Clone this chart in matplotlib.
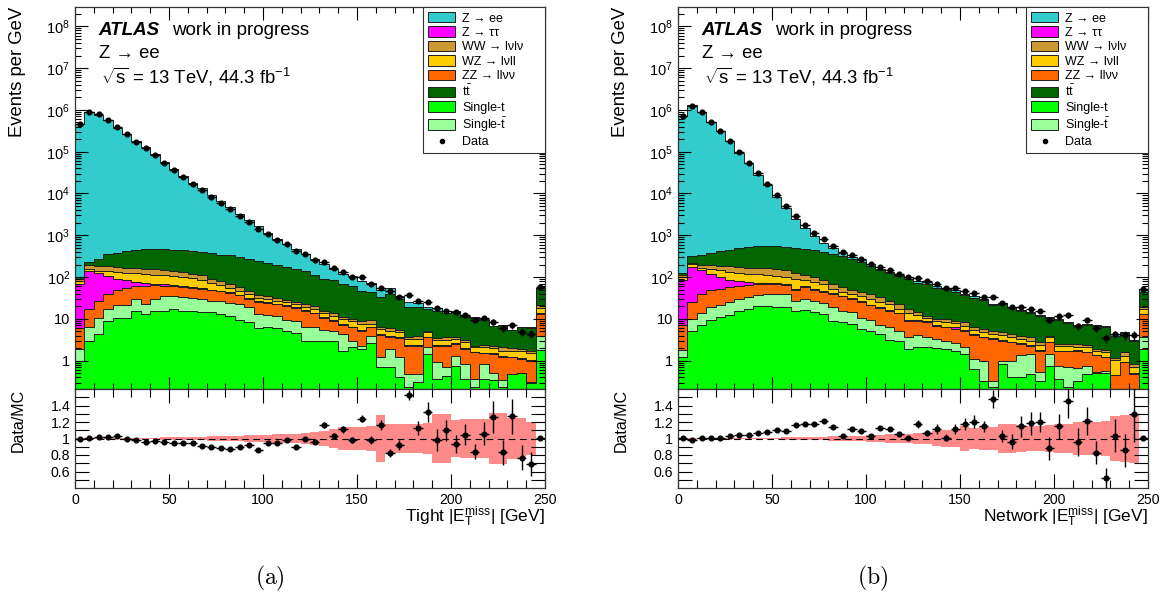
import numpy as np
import matplotlib
matplotlib.use("Agg")
import matplotlib.pyplot as plt
from matplotlib.patches import Patch
from matplotlib.lines import Line2D
from matplotlib.ticker import (FixedLocator, MultipleLocator, FuncFormatter, NullFormatter)

plt.rcParams['font.family'] = ['Liberation Sans', 'DejaVu Sans']
plt.rcParams['mathtext.fontset'] = 'custom'
plt.rcParams['mathtext.rm'] = 'Liberation Sans'
plt.rcParams['mathtext.it'] = 'Liberation Sans:italic'
plt.rcParams['mathtext.bf'] = 'Liberation Sans:bold'

# 50 bins of 5 GeV, last one is the overflow (245-250)
edges = np.arange(0, 255, 5)
centers = edges[:-1] + 2.5

# sample names / colours, bottom of stack first
samples = ["Single-t", "Single-tbar", "ZZ", "Ztautau", "WZ", "WW", "ttbar", "Zee"]
colors = {
    "Zee": "#33cccc", "Ztautau": "#ff00ff", "WW": "#cc9933", "WZ": "#ffcc00",
    "ZZ": "#ff6600", "ttbar": "#006600", "Single-t": "#00ff00", "Single-tbar": "#99ff99",
}
legend_order = ["Zee", "Ztautau", "WW", "WZ", "ZZ", "ttbar", "Single-t", "Single-tbar"]
legend_labels = {
    "Zee": "Z \u2192 ee", "Ztautau": "Z \u2192 \u03c4\u03c4", "WW": "WW \u2192 l\u03bdl\u03bd",
    "WZ": "WZ \u2192 l\u03bdll", "ZZ": "ZZ \u2192 ll\u03bd\u03bd",
    "ttbar": r"$\mathrm{t\bar{t}}$", "Single-t": "Single-t",
    "Single-tbar": r"Single-$\mathrm{\bar{t}}$",
}

# ---- (a) Tight MET, events per GeV ----
left_single_t = [1.0, 3.0, 4.4, 9.1, 10.6, 10.6, 15.8, 13.2, 15.8, 15.8, 17.1, 15.8, 15.8, 15.0, 14.5,
                 13.2, 12.0, 9.5, 8.3, 6.1, 6.3, 6.1, 5.25, 4.5, 3.0, 3.0, 2.9, 2.9, 1.74, 2.1,
                 1.9, 2.6, 0.69, 0.69, 0.4, 0.23, 0.3, 1.45, 0.36, 0.44, 0.76, 0.36, 0.23, 0.36, 0.34,
                 0.23, 0.48, 0.52, 0.29, 1.8]
left_single_tbar = [0.91, 3.3, 6.2, 7.9, 10.3, 10.3, 13.3, 9.7, 14.4, 18.6, 17.9, 17.3, 15.5, 14.1, 13.0,
                    12.9, 11.8, 12.6, 10.8, 7.1, 6.4, 5.9, 4.25, 4.3, 3.3, 3.3, 2.55, 2.35, 2.63, 0.93,
                    0.4, 1.4, 0.51, 1.22, 0.8, 0.25, 0.18, 0.64, 0.55, 0.28, 0.56, 0.47, 0.13, 0.47, 0.16,
                    0.11, 0.0, 0.0, 0.01, 2.2]
left_zz = [4.1, 10.5, 16.0, 22.8, 28.8, 32.6, 30.6, 36.8, 32.9, 27.6, 24.7, 24.4, 24.0, 22.4, 20.4,
           19.3, 17.5, 14.2, 11.1, 11.9, 11.1, 10.1, 11.0, 9.6, 9.5, 7.4, 5.15, 3.87, 2.93, 3.3,
           2.96, 2.33, 3.0, 1.85, 2.3, 1.81, 1.81, 1.54, 1.38, 1.57, 1.19, 1.08, 1.22, 0.67, 0.95,
           0.91, 0.72, 0.58, 0.7, 9.2]
left_ztautau = [63, 122, 98, 66, 41.5, 29.7, 16.2, 12.3, 6.1, 4.5, 3.4, 2.2, 2.2, 2.0, 1.8,
                1.7, 1.6, 1.4, 1.1, 1.0, 1.0, 0.8, 0.8, 0.7, 0.6, 0.5, 0.4, 0.4, 0.3, 0.24,
                0.2, 0.24, 0.17, 0.14, 0.13, 0.09, 0.09, 0.13, 0.09, 0.09, 0.09, 0.07, 0.06, 0.06, 0.05,
                0.04, 0.05, 0.04, 0.04, 0.5]
left_wz = [11.2, 14, 14, 33, 40.8, 43.8, 46, 46, 44.8, 43.5, 40.9, 38.9, 35.5, 33, 24,
           18, 13, 10, 8, 6, 5, 4.5, 4, 3.5, 3.2, 3.0, 2.7, 2.5, 2.3, 2.1,
           2.0, 1.05, 1.38, 1.35, 1.16, 0.93, 0.93, 1.03, 0.75, 0.75, 0.71, 0.77, 0.45, 0.53, 0.5,
           0.45, 0.49, 0.53, 0.46, 4.7]
left_ww = [10.8, 42, 43, 43, 42, 40, 42, 40, 39, 37, 35, 30.4, 27, 23.5, 17.9,
           14, 11.7, 9.6, 8.4, 6.1, 5.8, 4.2, 3.3, 3.4, 3.0, 3.4, 2.1, 1.9, 1.4, 1.2,
           1.6, 1.9, 0.8, 0.82, 0.66, 0.45, 0.67, 0.46, 0.37, 0.5, 0.45, 0.38, 0.2, 0.29, 0.29,
           0.35, 0.26, 0.24, 0.24, 2.5]
left_ttbar = [8.8, 30, 93, 168, 203, 247, 286, 301, 306, 312, 311, 308, 300, 288, 281,
              267, 262, 245, 221, 206, 186, 167, 146, 133, 117, 89, 75.4, 69.3, 57.8, 49.7,
              38.4, 34.2, 26.6, 33.7, 24.8, 15.3, 15.1, 12.1, 12.3, 9.9, 10.7, 8.1, 8.2, 7.2, 4.3,
              4.8, 3.37, 4.4, 4.4, 34]
left_zee = [4.62e5, 9.08e5, 7.76e5, 5.62e5, 3.72e5, 2.66e5, 1.78e5, 1.26e5, 8.55e4, 5.7e4, 3.8e4, 2.63e4,
            1.73e4, 1.28e4, 8870, 6440, 4470, 2930, 2000, 1430, 900, 634, 457, 310, 216,
            159, 109, 75, 51, 45, 35, 27, 14.8, 15.2, 5.3, 6, 4.9, 1.7, 2.4, 0.6,
            1.3, 0.5, 0.5, 0.45, 0.16, 0.28, 0.13, 0.16, 0.13, 1.2]
left_ratio = [0.988, 1.004, 1.02, 1.02, 1.025, 0.99, 0.976, 0.956, 0.968, 0.96, 0.948, 0.94, 0.94,
              0.908, 0.90, 0.888, 0.868, 0.892, 0.92, 0.864, 0.948, 0.944, 0.984, 0.896, 0.992,
              0.96, 1.164, 1.032, 1.112, 0.98, 1.24, 0.98, 1.16, 0.824, 0.92, 1.528, 1.128, 1.32,
              0.98, 1.10, 0.932, 1.048, 0.84, 1.06, 1.26, 0.832, 1.268, 0.768, 0.692, 1.012]
left_ratio_err = [0.005] * 13 + [0.008] * 7 + [0.012, 0.012, 0.015, 0.015, 0.02, 0.02, 0.036, 0.035,
                  0.04, 0.04, 0.04, 0.045, 0.06, 0.05, 0.06, 0.06, 0.09, 0.12, 0.13, 0.13, 0.11,
                  0.13, 0.09, 0.14, 0.19, 0.15, 0.21, 0.15, 0.15, 0.02]
left_band = [0.004] * 5 + [0.006, 0.008, 0.01, 0.011, 0.013, 0.016, 0.018, 0.02, 0.023, 0.026, 0.028,
             0.03, 0.033, 0.037, 0.042, 0.047, 0.05, 0.055, 0.06, 0.068, 0.08, 0.085, 0.11, 0.14,
             0.14, 0.14, 0.15, 0.29, 0.18, 0.18, 0.18, 0.18, 0.19, 0.3, 0.3, 0.22, 0.24, 0.24,
             0.24, 0.31, 0.31, 0.25, 0.25, 0.2, 0.0]

# ---- (b) Network MET ----
right_single_t = [1.2, 5.25, 7.2, 9.5, 11.0, 12.7, 15.8, 17.4, 19.8, 19.8, 19.1, 19.1, 15.8, 16.4, 14.5,
                  13.2, 9.1, 8.3, 7.6, 5.75, 5.06, 4.37, 3.13, 2.9, 1.9, 2.09, 2.09, 2.0, 1.91, 1.74,
                  1.45, 0.63, 0.33, 0.23, 0.83, 0.4, 0.4, 0.48, 0.33, 0.76, 0.36, 0.23, 0.33, 0.48, 0.5,
                  0.52, 0.1, 0.1, 0.1, 1.91]
right_single_tbar = [0.6, 4.75, 6.5, 9.6, 9.9, 12.4, 14.4, 15.7, 16.5, 18.6, 19.3, 20.7, 10.8, 13.8, 13.0,
                     10.6, 10.0, 7.5, 6.9, 4.85, 4.44, 2.93, 3.18, 2.35, 1.7, 2.1, 1.54, 1.31, 1.11, 0.87,
                     0.72, 0.47, 0.67, 0.09, 0.13, 0.56, 0.99, 0.97, 0.2, 0.69, 0.4, 0.46, 0.34, 0.28, 0.03,
                     0.05, 0.05, 0.05, 0.05, 1.72]
right_zz = [5.2, 15.1, 24.7, 30.6, 31.6, 32.4, 29.5, 30.0, 30.2, 28.1, 28.1, 25.5, 23.1, 27.3, 22.2,
            19.9, 20.7, 18.6, 15.7, 14.5, 11.4, 11.1, 9.5, 8.45, 5.5, 4.9, 4.87, 3.61, 3.29, 3.14,
            3.08, 3.1, 2.63, 2.99, 2.06, 1.79, 1.12, 0.84, 1.21, 1.3, 0.91, 0.98, 1.07, 0.82, 0.8,
            0.63, 0.3, 0.76, 0.33, 9.1]
right_ztautau = [78, 149, 107, 70, 47.5, 27.5, 18.8, 12.8, 5.9, 5.5, 4.0, 2.7, 1.8, 2.2, 1.8,
                 1.7, 1.5, 1.2, 1.1, 1.0, 0.8, 0.7, 0.6, 0.5, 0.4, 0.4, 0.3, 0.28, 0.24, 0.56,
                 0.2, 0.17, 0.13, 0.13, 0.11, 0.11, 0.09, 0.09, 0.06, 0.11, 0.07, 0.07, 0.06, 0.06, 0.05,
                 0.05, 0.01, 0.04, 0.02, 0.5]
right_wz = [15, 27, 22, 33, 45, 47, 46.5, 44, 43.6, 38, 33.5, 32, 39.7, 26.8, 24.4,
            21.1, 11.2, 8.1, 8.5, 8.3, 8.5, 6.0, 5.7, 3.2, 4.2, 3.2, 1.8, 1.92, 1.77, 1.6,
            1.47, 1.08, 1.03, 0.93, 1.07, 0.77, 0.71, 0.64, 0.62, 0.77, 0.55, 0.55, 0.37, 0.45, 0.3,
            0.33, 0.55, 0.37, 0.19, 4.2]
right_ww = [10, 19, 31, 38, 38, 50, 49, 47, 51, 54, 54, 50, 34, 23.5, 24,
            16.7, 16.7, 13.8, 9.9, 9.3, 8.2, 8.0, 5.4, 5.5, 3.7, 2.3, 0.8, 0.88, 1.68, 1.2,
            1.4, 0.86, 0.96, 0.88, 0.59, 0.74, 0.67, 0.61, 0.33, 0.35, 0.22, 0.22, 0.34, 0.33, 0.24,
            0.22, 0.14, 0.26, 0.14, 1.7]
right_ttbar = [15, 96, 141, 189, 234, 275, 327, 358, 383, 386, 392, 387, 376, 369, 337,
               315, 286, 258, 219, 190, 148, 112, 98.5, 82, 73.8, 56.8, 55.3, 45.5, 41.5, 35.4,
               29.4, 25, 21.8, 16, 17.7, 14.3, 11.8, 10.1, 9.25, 6.4, 6.95, 5.36, 4.16, 4.76, 4.88,
               4.51, 2.81, 2.95, 2.08, 24.6]
right_zee = [7.16e5, 1.29e6, 8.9e5, 5.19e5, 3.13e5, 1.78e5, 9.28e4, 5.2e4, 2.77e4, 1.5e4, 7670, 4030,
             1950, 1000, 540, 263, 135, 64, 33, 17, 14, 10, 9, 8.5, 7.7,
             8.2, 7.8, 4.2, 4.0, 3.4, 2.1, 3.7, 2.1, 1.6, 1.3, 1.1, 0.9, 0.8, 0.7, 0.6,
             0.54, 0.45, 0.38, 0.41, 0.39, 0.36, 0.29, 0.26, 0.22, 6.9]
right_ratio = [1.012, 0.98, 1.004, 1.012, 1.012, 1.028, 1.04, 1.048, 1.068, 1.076, 1.108, 1.096, 1.164,
               1.18, 1.18, 1.216, 1.136, 1.028, 1.12, 1.096, 1.036, 1.132, 1.12, 1.06, 1.012,
               1.176, 1.072, 1.116, 1.012, 1.116, 1.176, 1.204, 1.148, 1.48, 1.028, 0.96, 1.148, 1.184,
               1.2, 0.88, 1.148, 1.452, 0.952, 1.212, 0.828, 0.52, 1.036, 0.86, 1.292, 1.004]
right_ratio_err = [0.005] * 12 + [0.008] * 4 + [0.01] * 5 + [0.015, 0.015, 0.02, 0.02, 0.05, 0.03, 0.06,
                   0.04, 0.06, 0.07, 0.08, 0.07, 0.11, 0.07, 0.09, 0.13, 0.14, 0.12, 0.14, 0.15, 0.2,
                   0.17, 0.17, 0.14, 0.12, 0.2, 0.2, 0.33, 0.02]
right_band = [0.004] * 5 + [0.006, 0.007, 0.008, 0.009, 0.01, 0.012, 0.014, 0.016, 0.018, 0.02, 0.022,
              0.025, 0.028, 0.03, 0.035, 0.04, 0.045, 0.05, 0.05, 0.06, 0.07, 0.07, 0.085, 0.1, 0.1,
              0.15, 0.13, 0.14, 0.14, 0.17, 0.17, 0.16, 0.15, 0.15, 0.16, 0.17, 0.18, 0.2, 0.2, 0.2,
              0.21, 0.27, 0.28, 0.3, 0.0]

panels = [
    {"stack": [left_single_t, left_single_tbar, left_zz, left_ztautau, left_wz, left_ww, left_ttbar, left_zee],
     "ratio": left_ratio, "err": left_ratio_err, "band": left_band,
     "xlabel": r"Tight $|\mathrm{E}_{\mathrm{T}}^{\mathrm{miss}}|$ [GeV]", "tag": "(a)", "x0": 75},
    {"stack": [right_single_t, right_single_tbar, right_zz, right_ztautau, right_wz, right_ww, right_ttbar, right_zee],
     "ratio": right_ratio, "err": right_ratio_err, "band": right_band,
     "xlabel": r"Network $|\mathrm{E}_{\mathrm{T}}^{\mathrm{miss}}|$ [GeV]", "tag": "(b)", "x0": 678},
]

YMIN, YMAX = 0.21, 2.9e8
log_major = [10.0 ** e for e in range(0, 9)]
log_minor = [m * 10.0 ** e for e in range(-1, 9) for m in range(2, 10)
             if YMIN <= m * 10.0 ** e <= YMAX]

W, H = 1161, 603
fig = plt.figure(figsize=(W / 100, H / 100), dpi=100)


def log_label(v, pos):
    if v == 1:
        return "1"
    if v == 10:
        return "10"
    return r"$10^{%d}$" % int(round(np.log10(v)))


for p in panels:
    x0 = p["x0"] / W
    w = 470 / W
    ax = fig.add_axes([x0, 1 - 389 / H, w, (389 - 7) / H])
    axr = fig.add_axes([x0, 1 - 488 / H, w, (488 - 389) / H])

    # stacked MC
    base = np.full(len(centers), 1e-3)
    tops = []
    for name, vals in zip(samples, p["stack"]):
        top = base + np.asarray(vals, dtype=float)
        ax.stairs(top, edges, baseline=base, fill=True, color=colors[name], lw=0, zorder=1)
        tops.append(top)
        base = top
    for top in tops:
        ax.stairs(top, edges, baseline=None, color="#1e1e1e", lw=0.7, zorder=1.5)
    total = base

    ratio = np.asarray(p["ratio"])
    rerr = np.asarray(p["err"])
    data = ratio * total
    ax.errorbar(centers, data, yerr=rerr * total, xerr=2.5, fmt="o", ms=3.4,
                color="black", elinewidth=1.0, capsize=0, zorder=3)

    ax.set_yscale("log")
    ax.set_ylim(YMIN, YMAX)
    ax.set_xlim(0, 250)
    ax.yaxis.set_major_locator(FixedLocator(log_major))
    ax.yaxis.set_minor_locator(FixedLocator(log_minor))
    ax.yaxis.set_major_formatter(FuncFormatter(log_label))
    ax.yaxis.set_minor_formatter(NullFormatter())
    ax.xaxis.set_major_locator(MultipleLocator(50))
    ax.xaxis.set_minor_locator(MultipleLocator(10))
    ax.tick_params(which="both", direction="in", top=True, right=True, labelbottom=False,
                   labelsize=10.5, width=0.8)
    ax.tick_params(which="major", length=9)
    ax.tick_params(which="minor", length=4.5)
    ax.set_ylabel("Events per GeV", fontsize=13.3, loc="top")
    ax.yaxis.set_label_coords(-0.104, 1.0)

    # labels
    ax.text(0.050, 0.939, "ATLAS", transform=ax.transAxes, fontsize=13.5, fontweight="bold",
            fontstyle="italic", va="center")
    ax.text(0.207, 0.939, "work in progress", transform=ax.transAxes, fontsize=13.5, va="center")
    ax.text(0.052, 0.877, "Z \u2192 ee", transform=ax.transAxes, fontsize=13.3, va="center")
    ax.text(0.055, 0.816, r"$\sqrt{\mathrm{s}}$ = 13 TeV, 44.3 fb$^{\mathrm{-1}}$",
            transform=ax.transAxes, fontsize=13.3, va="center")

    handles = [Patch(facecolor=colors[n], edgecolor="#1e1e1e", lw=0.7) for n in legend_order]
    handles.append(Line2D([], [], marker="o", ms=3, color="black", ls="none"))
    labels = [legend_labels[n] for n in legend_order] + ["Data"]
    leg = ax.legend(handles, labels, loc="upper left", bbox_to_anchor=(0.74, 0.0, 0.26, 1.0),
                    mode="expand", borderaxespad=0, fancybox=False, framealpha=1,
                    edgecolor="#333333", fontsize=9, handlelength=2.2, handleheight=0.9,
                    labelspacing=0.15, borderpad=0.4, handletextpad=0.55)
    leg.get_frame().set_linewidth(0.8)
    leg.set_zorder(5)

    # ratio panel
    band = np.asarray(p["band"])
    axr.stairs(1 + band, edges, baseline=1 - band, fill=True, color="#ff8a8a", lw=0, zorder=1)
    axr.axhline(1.0, color="black", lw=0.8, ls=(0, (6, 4)), zorder=2)
    axr.errorbar(centers, ratio, yerr=rerr, xerr=2.5, fmt="o", ms=3.4, color="black",
                 elinewidth=1.0, capsize=0, zorder=3)
    axr.set_xlim(0, 250)
    axr.set_ylim(0.4, 1.6)
    axr.yaxis.set_major_locator(FixedLocator([0.6, 0.8, 1.0, 1.2, 1.4]))
    axr.yaxis.set_minor_locator(FixedLocator([0.5, 0.7, 0.9, 1.1, 1.3, 1.5]))
    axr.yaxis.set_major_formatter(FuncFormatter(lambda v, pos: f"{v:g}"))
    axr.xaxis.set_major_locator(MultipleLocator(50))
    axr.xaxis.set_minor_locator(MultipleLocator(10))
    axr.tick_params(which="both", direction="in", top=True, right=True, labelsize=10.2, width=0.8)
    axr.tick_params(axis="x", which="major", length=10)
    axr.tick_params(axis="x", which="minor", length=5.5)
    axr.tick_params(axis="y", which="both", length=10)
    axr.set_ylabel("Data/MC", fontsize=11.5, loc="top")
    axr.yaxis.set_label_coords(-0.104, 1.0)
    axr.set_xlabel(p["xlabel"], fontsize=12.5, loc="right", va="baseline")
    axr.xaxis.set_label_coords(1.0, -(522 - 488) / 99)

    for a in (ax, axr):
        for s in a.spines.values():
            s.set_linewidth(0.9)
            s.set_color("#333333")

    fig.text((p["x0"] + 195) / W, 1 - 578 / H, r"$\mathrm{%s}$" % p["tag"], ha="center",
             va="center", fontsize=17, math_fontfamily="cm")

fig.savefig("out.png", dpi=100, facecolor="white")
